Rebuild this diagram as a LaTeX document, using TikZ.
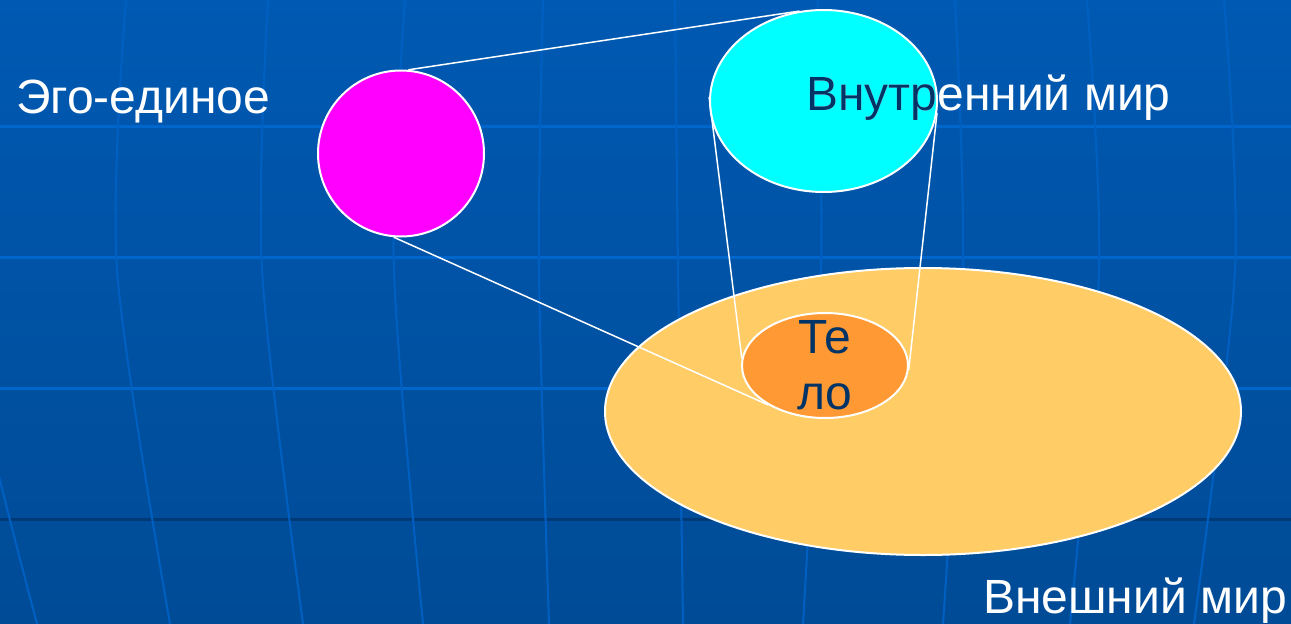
\documentclass[tikz,border=0pt]{standalone}
\usepackage{fontspec}
\setmainfont{Liberation Sans}
\usetikzlibrary{shapes.geometric}

\definecolor{slidetop}{RGB}{0,89,178}
\definecolor{slidebottom}{RGB}{0,75,150}
\definecolor{gridblue}{RGB}{0,102,204}
\definecolor{gridfaint}{RGB}{0,96,194}
\definecolor{gridblack}{RGB}{0,58,118}
\definecolor{egopink}{RGB}{255,0,255}
\definecolor{innercyan}{RGB}{0,255,255}
\definecolor{outerpeach}{RGB}{255,204,102}
\definecolor{bodyorange}{RGB}{255,153,51}
\definecolor{labelnavy}{RGB}{0,51,102}

\begin{document}
\begin{tikzpicture}[x=1pt, y=-1pt,
    blob/.style={ellipse, draw=white, line width=2pt, inner sep=0pt},
    link/.style={draw=white, line width=1.5pt},
    gridline/.style={draw=gridfaint, line width=2pt},
    caption/.style={font=\fontsize{48}{56}\selectfont, inner sep=0pt}]

    % Background
    \useasboundingbox (0,0) rectangle (1291,624);
    \shade[top color=slidetop, bottom color=slidebottom] (0,0) rectangle (1291,624);
    \begin{scope}
        \clip (0,0) rectangle (1291,624);
        \foreach \y in {126,257,388}
            \draw[gridblue, line width=3pt] (0,\y) -- (1291,\y);
        \draw[gridblack, line width=3pt] (0,519) -- (1291,519);
        \foreach \a/\b/\c in {126/117/170, 268/262/303, 405/394/423, 543/539/549, 675/678/683,
                              818/821/803, 955/963/943, 1087/1099/1070, 1224/1235/1194}
            \draw[gridline] plot[smooth] coordinates {(\a,0) (\b,270) (\c,624)};
        \draw[gridline] plot[smooth] coordinates {(-20,380) (0,480) (37,624)};
    \end{scope}

    % Nodes
    \node[blob, fill=outerpeach, minimum width=636pt, minimum height=287pt] at (923,411.5) (outer) {};
    \node[blob, fill=bodyorange, minimum width=166pt, minimum height=105pt] at (825,365.5) (body) {};
    \node[blob, fill=innercyan, minimum width=227pt, minimum height=182pt] at (823.5,101) (inner) {};
    \node[circle, draw=white, line width=2pt, fill=egopink, minimum size=166pt, inner sep=0pt] at (401,153.5) (ego) {};

    % Labels
    \node[caption, text=white, anchor=base west] at (16,113) (egolabel) {Эго-единое};
    \node[caption, text=white, anchor=base west] at (806,110) (innerlabel) {Внутренний мир};
    \begin{scope}
        \clip (inner.center) ellipse [x radius=112.5pt, y radius=90pt];
        \node[caption, text=labelnavy, anchor=base west] at (806,110) (innerlabeldark) {Внутренний мир};
    \end{scope}
    \node[caption, text=labelnavy, align=center] at (825,365) (bodylabel) {Те\\ло};
    \node[caption, text=white, anchor=base west] at (983,613) (outerlabel) {Внешний мир};

    % Links
    \draw[link] (ego.85) -- (inner.105);
    \draw[link] (ego.265) -- (body.215);
    \draw[link] (inner.178) -- (body.175);
    \draw[link] (inner.-6) -- (body.-3);

\end{tikzpicture}
\end{document}
